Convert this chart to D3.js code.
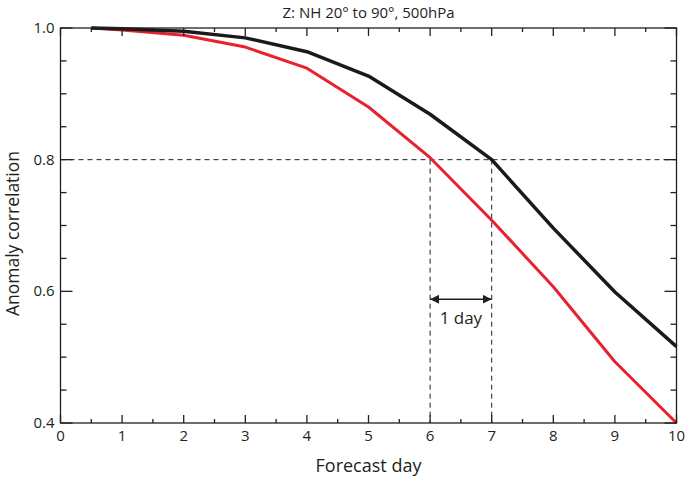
<!DOCTYPE html>
<html><head><meta charset="utf-8">
<script src="https://cdn.jsdelivr.net/npm/d3@7"></script>
<style>
body{margin:0;background:#fff;}
text{font-family:"Open Sans",sans-serif;fill:#231f20;}
</style></head>
<body>
<svg id="c" width="685" height="479"></svg>
<script>
const days = [0.5, 1, 2, 3, 4, 5, 6, 7, 8, 9, 10];
const blackSeries = [1.0, 0.999, 0.995, 0.985, 0.964, 0.927, 0.869, 0.800, 0.696, 0.599, 0.516];
const redSeries = [1.0, 0.997, 0.989, 0.971, 0.939, 0.880, 0.803, 0.708, 0.607, 0.493, 0.400];
const xTicks = [0,1,2,3,4,5,6,7,8,9,10];
const yTicks = [0.4, 0.6, 0.8, 1.0];
const refLevel = 0.8;
const refDays = [6, 7];
const arrowLevel = 0.588;
const title = "Z: NH 20° to 90°, 500hPa";

const svg = d3.select("#c");
const L = 60.5, R = 676.5, T = 28, B = 423;
const x = d3.scaleLinear().domain([0, 10]).range([L, R]);
const y = d3.scaleLinear().domain([0.4, 1.0]).range([B, T]);
const ink = "#231f20";

// dashed reference lines
const dash = svg.append("g").attr("stroke", ink).attr("stroke-width", 1).attr("stroke-dasharray", "5,4").attr("fill","none");
dash.append("line").attr("x1", x(0)).attr("x2", x(10)).attr("y1", y(refLevel)).attr("y2", y(refLevel));
refDays.forEach(d => dash.append("line").attr("x1", x(d)).attr("x2", x(d)).attr("y1", y(refLevel)).attr("y2", y(0.4)));

// arrow
const defs = svg.append("defs");
defs.append("marker").attr("id","ah").attr("viewBox","0 0 10 10").attr("refX",10).attr("refY",5)
  .attr("markerWidth",9).attr("markerHeight",9).attr("markerUnits","userSpaceOnUse").attr("orient","auto-start-reverse")
  .append("path").attr("d","M0,0L10,5L0,10z").attr("fill",ink);
svg.append("line").attr("x1", x(refDays[0])).attr("x2", x(refDays[1])).attr("y1", y(arrowLevel)).attr("y2", y(arrowLevel))
  .attr("stroke", ink).attr("stroke-width", 1.5).attr("marker-start","url(#ah)").attr("marker-end","url(#ah)");
svg.append("text").attr("x", x((refDays[0]+refDays[1])/2)).attr("y", y(arrowLevel)+25).attr("text-anchor","middle")
  .attr("font-size", 17).text("1 day");

// lines
const line = d3.line().x((d,i) => x(days[i])).y(d => y(d));
svg.append("path").datum(redSeries).attr("d", line).attr("fill","none").attr("stroke","#e8212f").attr("stroke-width",3).attr("stroke-linejoin","round");
svg.append("path").datum(blackSeries).attr("d", line).attr("fill","none").attr("stroke","#1a1a1a").attr("stroke-width",3.5).attr("stroke-linejoin","round");

// frame
svg.append("rect").attr("x", L).attr("y", T).attr("width", R-L).attr("height", B-T).attr("fill","none").attr("stroke", ink).attr("stroke-width", 1.3);

// ticks
const xMinor = d3.range(0.5, 10, 1);
const yMinor = d3.range(0.45, 1.0, 0.05).filter(v => !yTicks.some(t => Math.abs(t - v) < 1e-6));
const tg = svg.append("g").attr("stroke", ink).attr("stroke-width", 1.3);
xTicks.forEach(v => {
  tg.append("line").attr("x1",x(v)).attr("x2",x(v)).attr("y1",B).attr("y2",B-8);
  tg.append("line").attr("x1",x(v)).attr("x2",x(v)).attr("y1",T).attr("y2",T+8);
});
xMinor.forEach(v => {
  tg.append("line").attr("x1",x(v)).attr("x2",x(v)).attr("y1",B).attr("y2",B-4);
  tg.append("line").attr("x1",x(v)).attr("x2",x(v)).attr("y1",T).attr("y2",T+4);
});
yTicks.forEach(v => {
  tg.append("line").attr("x1",L).attr("x2",L+12).attr("y1",y(v)).attr("y2",y(v));
  tg.append("line").attr("x1",R).attr("x2",R-12).attr("y1",y(v)).attr("y2",y(v));
});
yMinor.forEach(v => {
  tg.append("line").attr("x1",L).attr("x2",L+6).attr("y1",y(v)).attr("y2",y(v));
  tg.append("line").attr("x1",R).attr("x2",R-6).attr("y1",y(v)).attr("y2",y(v));
});

// tick labels
xTicks.forEach(v => svg.append("text").attr("x", x(v)).attr("y", B+18).attr("text-anchor","middle").attr("font-size",15).text(v));
yTicks.forEach(v => svg.append("text").attr("x", L-6).attr("y", y(v)+5).attr("text-anchor","end").attr("font-size",15).text(v.toFixed(1)));

// titles
svg.append("text").attr("x", (L+R)/2).attr("y", 18).attr("text-anchor","middle").attr("font-size",15).text(title);
svg.append("text").attr("x", (L+R)/2).attr("y", 472).attr("text-anchor","middle").attr("font-size",18).text("Forecast day");
svg.append("text").attr("transform", `translate(19,${(T+B)/2 + 8}) rotate(-90)`).attr("text-anchor","middle").attr("font-size",17.5).text("Anomaly correlation");
</script>
</body></html>
